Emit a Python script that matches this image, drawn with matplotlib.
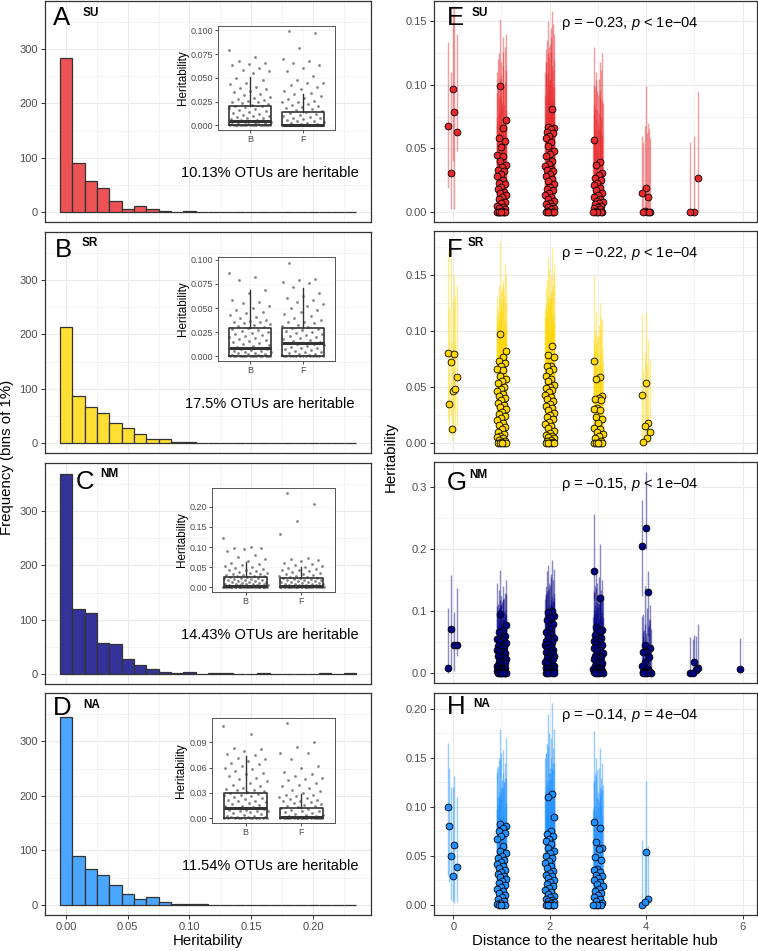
import matplotlib
matplotlib.use("Agg")
import matplotlib.pyplot as plt
from matplotlib.ticker import MultipleLocator, FixedLocator, FormatStrFormatter
import numpy as np

plt.rcParams['font.family'] = ['Liberation Sans', 'DejaVu Sans']
plt.rcParams['mathtext.fontset'] = 'custom'
plt.rcParams['mathtext.rm'] = 'Liberation Sans'
plt.rcParams['mathtext.it'] = 'Liberation Sans:italic'

# ---------------- data ----------------
sites = ['SU', 'SR', 'NM', 'NA']
heritable_pct = ['10.13%', '17.5%', '14.43%', '11.54%']
rho = [-0.23, -0.22, -0.15, -0.14]
p_text = ['< 1e\u221204', '< 1e\u221204', '< 1e\u221204', '= 4e\u221204']

# histogram, bins of 1% (centres 0.00 ... 0.23)
hist_bins = np.round(np.arange(0, 0.235, 0.01), 2)
hist_su = [283, 91, 57, 45, 20, 6, 11, 6, 2, 0, 2, 0, 0, 0, 0, 0, 0, 0, 0, 0, 0, 0, 0, 0]
hist_sr = [213, 86, 67, 56, 36, 28, 17, 8, 7, 1, 1, 0, 0, 0, 0, 0, 0, 0, 0, 0, 0, 0, 0, 0]
hist_nm = [368, 120, 113, 57, 55, 27, 17, 10, 4, 2, 4, 0, 1, 1, 0, 0, 1, 0, 0, 0, 0, 1, 0, 1]
hist_na = [345, 90, 65, 55, 36, 20, 11, 14, 6, 1, 1, 2, 0, 0, 0, 0, 0, 0, 0, 0, 0, 0, 0, 0]

# inset: heritability of bacteria (B) and fungi (F)
su_B = [.079,.072,.068,.066,.064,.063,.060,.058,.057,.055,.050,.048,.045,.043,.040,.039,.038,.036,.035,.033,.032,.030,.029,.028,.027,.026,.025,.024,.023,.022,.021,.020,.020,.019,.018,.017,.016,.015,.014,.013,.012,.011,.010,.010,.009,.008,.008,.007,.006,.006,.005,.005,.004,.004,.003,.003,.002,.002,.002,.001,.001,.001,0,0,0,0,0,0,0,0,0,0,0,0,0,0,0,0,0,0]
su_F = [.0995,.097,.081,.070,.068,.066,.063,.060,.057,.052,.048,.045,.044,.042,.040,.038,.036,.034,.033,.031,.029,.028,.026,.025,.024,.022,.021,.020,.019,.018,.017,.016,.015,.014,.013,.012,.011,.010,.009,.008,.008,.007,.006,.005,.004,.003,.002,.002,.001,.001,0,0,0,0,0,0,0,0,0,0,0,0,0,0,0,0,0,0,0,0,0,0]
sr_B = [.086,.082,.079,.069,.066,.058,.056,.055,.052,.050,.048,.046,.045,.043,.041,.040,.038,.037,.036,.035,.034,.033,.032,.031,.030,.029,.028,.027,.026,.025,.024,.023,.022,.021,.020,.019,.018,.017,.016,.015,.014,.013,.012,.011,.010,.009,.009,.008,.008,.007,.007,.006,.005,.005,.004,.004,.003,.003,.002,.002,.001,.001,0,0,0,0,0,0,0,0,0,0,0,0,0,0,0,0]
sr_F = [.097,.080,.079,.077,.076,.072,.066,.063,.060,.058,.056,.054,.052,.050,.048,.046,.044,.042,.040,.038,.036,.035,.034,.032,.031,.030,.029,.028,.027,.026,.025,.024,.023,.022,.021,.020,.019,.018,.017,.016,.015,.014,.014,.013,.013,.012,.011,.010,.009,.008,.007,.006,.005,.004,.004,.003,.002,.002,.001,.001,0,0,0,0,0,0,0,0,0,0,0,0,0]
nm_B = [.122,.100,.098,.097,.095,.090,.080,.075,.070,.066,.060,.057,.055,.052,.050,.048,.046,.044,.042,.040,.038,.036,.035,.034,.032,.031,.030,.029,.028,.027,.026,.025,.024,.023,.022,.021,.020,.019,.018,.017,.016,.015,.014,.013,.012,.011,.010,.009,.008,.008,.007,.007,.006,.006,.005,.005,.004,.004,.003,.003,.002,.002,.002,.001,.001,.001,.001,0,0,0,0,0,0,0,0,0,0,0,0,0,0,0,0,0,0,0,0,0,0,0]
nm_F = [.235,.207,.165,.132,.072,.070,.067,.065,.060,.057,.055,.052,.050,.048,.046,.044,.042,.040,.038,.036,.034,.032,.030,.029,.028,.026,.025,.024,.023,.022,.021,.020,.019,.018,.017,.016,.015,.014,.013,.012,.011,.010,.009,.008,.007,.007,.006,.006,.005,.005,.004,.004,.003,.003,.002,.002,.002,.001,.001,.001,0,0,0,0,0,0,0,0,0,0,0,0,0,0,0,0,0,0,0,0,0,0]
na_B = [.110,.100,.083,.082,.080,.076,.075,.072,.070,.068,.066,.064,.062,.060,.058,.056,.054,.052,.050,.048,.046,.044,.042,.040,.038,.036,.035,.034,.033,.032,.031,.030,.029,.028,.027,.026,.025,.024,.023,.022,.021,.020,.019,.018,.017,.016,.015,.014,.013,.012,.011,.010,.010,.009,.008,.008,.007,.006,.005,.004,.003,.003,.002,.002,.001,.001,0,0,0,0,0,0,0,0,0,0,0,0]
na_F = [.113,.090,.085,.078,.077,.070,.062,.060,.055,.052,.050,.048,.047,.045,.042,.040,.038,.036,.034,.032,.030,.028,.027,.026,.025,.024,.023,.022,.021,.020,.019,.018,.017,.016,.015,.014,.013,.012,.011,.010,.009,.008,.007,.006,.005,.004,.004,.003,.003,.002,.002,.001,.001,0,0,0,0,0,0,0,0,0,0,0,0,0,0,0,0,0,0]

# boxplot stats (q1, median, q3, upper whisker), lower whisker at 0
su_box = [(.0005, .005, .020, .051), (0, .0005, .0135, .033)]
sr_box = [(.0005, .008, .029, .069), (.0005, .014, .029, .071)]
nm_box = [(0, .003, .026, .064), (0, .002, .022, .050)]
na_box = [(.0005, .012, .030, .074), (0, .001, .012, .0285)]

# heritability (h, lower CI, upper CI) by distance to nearest heritable hub
su_pts = {
    0: [(.068,.019,.134),(.079,.002,.162),(.031,.002,.110),(.063,.048,.140),(.097,.040,.156)],
    1: [(.099,.055,.152),(.072,.030,.140),(.066,.025,.138),(.058,.018,.125),(.056,.015,.130),(.051,.010,.118),(.045,.006,.110),(.044,.004,.126),(.040,.002,.105),(.037,0,.112),(.035,0,.098),(.033,0,.120),(.032,0,.100),(.030,0,.108),(.028,0,.094),(.025,0,.115),(.023,0,.090),(.022,0,.102),(.020,0,.088),(.018,0,.096),(.016,0,.085),(.015,0,.092),(.013,0,.080),(.012,0,.086),(.010,0,.078),(.008,0,.074),(.007,0,.082),(.005,0,.070),(.004,0,.066),(.003,0,.072),(.002,0,.060),(.001,0,.064),(0,0,.055),(0,0,.068),(0,0,.050),(0,0,.075),(0,0,.045),(0,0,.062),(0,0,.040),(0,0,.058)],
    2: [(.081,.040,.158),(.067,.028,.150),(.066,.025,.140),(.065,.022,.145),(.063,.020,.135),(.062,.018,.148),(.060,.015,.130),(.058,.012,.128),(.055,.010,.138),(.052,.008,.125),(.048,.005,.120),(.046,.004,.132),(.044,.002,.118),(.040,0,.115),(.038,0,.122),(.036,0,.110),(.034,0,.126),(.033,0,.108),(.032,0,.112),(.030,0,.105),(.028,0,.118),(.026,0,.100),(.024,0,.110),(.022,0,.098),(.020,0,.104),(.018,0,.095),(.017,0,.090),(.015,0,.100),(.013,0,.092),(.012,0,.085),(.010,0,.088),(.009,0,.080),(.007,0,.095),(.006,0,.078),(.005,0,.082),(.004,0,.075),(.003,0,.070),(.002,0,.086),(.001,0,.065),(0,0,.072),(0,0,.060),(0,0,.068),(0,0,.055),(0,0,.062),(0,0,.050)],
    3: [(.057,.020,.130),(.039,.004,.118),(.037,.002,.110),(.031,0,.125),(.029,0,.105),(.027,0,.098),(.025,0,.112),(.023,0,.095),(.021,0,.100),(.019,0,.090),(.017,0,.104),(.015,0,.088),(.013,0,.092),(.012,0,.085),(.010,0,.096),(.009,0,.080),(.008,0,.086),(.007,0,.078),(.006,0,.082),(.005,0,.075),(.004,0,.070),(.003,0,.077),(.002,0,.068),(.001,0,.072),(0,0,.060),(0,0,.065),(0,0,.055),(0,0,.062),(0,0,.050),(0,0,.058)],
    4: [(.019,0,.099),(.015,0,.060),(.012,0,.070),(.001,0,.068),(0,0,.058),(0,0,.062),(0,0,.055),(0,0,.065)],
    5: [(.027,0,.095),(0,0,.060),(0,0,.055)],
}
sr_pts = {
    0: [(.080,.020,.172),(.079,.030,.150),(.072,.025,.165),(.059,.015,.140),(.046,.010,.128),(.035,.005,.120),(.048,.008,.132),(.012,.002,.090)],
    1: [(.097,.050,.180),(.082,.035,.150),(.077,.030,.145),(.073,.028,.140),(.071,.025,.160),(.069,.022,.135),(.066,.020,.130),(.065,.018,.142),(.060,.015,.128),(.057,.012,.125),(.055,.010,.138),(.053,.008,.120),(.050,.006,.132),(.048,.004,.118),(.046,.002,.115),(.044,0,.126),(.042,0,.112),(.040,0,.110),(.038,0,.122),(.036,0,.108),(.034,0,.105),(.032,0,.116),(.030,0,.102),(.028,0,.100),(.026,0,.110),(.024,0,.098),(.022,0,.095),(.020,0,.104),(.018,0,.092),(.016,0,.090),(.014,0,.100),(.012,0,.088),(.010,0,.085),(.008,0,.094),(.006,0,.082),(.005,0,.080),(.004,0,.090),(.003,0,.078),(.002,0,.075),(.001,0,.086),(0,0,.070),(0,0,.080),(0,0,.065),(0,0,.072),(0,0,.060)],
    2: [(.086,.040,.174),(.078,.032,.165),(.077,.030,.160),(.069,.025,.150),(.069,.022,.145),(.066,.020,.140),(.064,.018,.155),(.060,.015,.138),(.057,.012,.135),(.055,.010,.130),(.052,.008,.148),(.050,.006,.128),(.049,.004,.125),(.047,.002,.136),(.045,0,.122),(.043,0,.120),(.041,0,.132),(.039,0,.118),(.037,0,.115),(.035,0,.128),(.033,0,.112),(.031,0,.110),(.029,0,.124),(.027,0,.108),(.025,0,.105),(.023,0,.118),(.021,0,.102),(.019,0,.100),(.017,0,.112),(.015,0,.098),(.013,0,.095),(.011,0,.108),(.009,0,.092),(.007,0,.090),(.006,0,.102),(.005,0,.088),(.004,0,.085),(.003,0,.096),(.002,0,.082),(.001,0,.080),(0,0,.075),(0,0,.090),(0,0,.070),(0,0,.085),(0,0,.065)],
    3: [(.073,.030,.150),(.059,.020,.125),(.057,.015,.118),(.042,.005,.110),(.040,.003,.105),(.039,.002,.100),(.038,0,.112),(.031,0,.095),(.030,0,.092),(.029,0,.102),(.023,0,.088),(.021,0,.085),(.018,0,.095),(.013,0,.080),(.012,0,.078),(.010,0,.090),(.008,0,.072),(.006,0,.070),(.004,0,.082),(.002,0,.065),(0,0,.060),(0,0,.075),(0,0,.055),(0,0,.068),(0,0,.050),(0,0,.062)],
    4: [(.053,.010,.117),(.043,.005,.115),(.018,0,.092),(.015,0,.080),(.010,0,.075),(.004,0,.070),(.001,0,.065)],
}
nm_pts = {
    0: [(.008,0,.105),(.046,.004,.098),(.072,.012,.158),(.045,.027,.138)],
    1: [(.096,.045,.166),(.078,.030,.150),(.070,.025,.140),(.066,.020,.135),(.060,.015,.130),(.057,.012,.125),(.055,.010,.145),(.053,.008,.120),(.050,.006,.118),(.048,.004,.128),(.046,.002,.115),(.044,0,.112),(.042,0,.122),(.040,0,.110),(.038,0,.108),(.036,0,.118),(.034,0,.105),(.032,0,.102),(.030,0,.112),(.028,0,.100),(.026,0,.098),(.024,0,.108),(.022,0,.095),(.020,0,.092),(.018,0,.104),(.016,0,.090),(.014,0,.088),(.012,0,.098),(.010,0,.085),(.009,0,.082),(.008,0,.094),(.007,0,.080),(.006,0,.078),(.005,0,.088),(.004,0,.075),(.003,0,.072),(.002,0,.084),(.001,0,.070),(0,0,.065),(0,0,.078),(0,0,.060),(0,0,.072),(0,0,.055),(0,0,.068),(0,0,.050)],
    2: [(.100,.050,.183),(.099,.048,.175),(.093,.042,.168),(.090,.040,.160),(.086,.035,.165),(.080,.030,.150),(.071,.025,.145),(.066,.020,.140),(.063,.018,.155),(.060,.015,.135),(.057,.012,.130),(.055,.010,.142),(.052,.008,.128),(.050,.006,.125),(.047,.004,.138),(.045,.002,.120),(.042,0,.118),(.040,0,.132),(.038,0,.115),(.036,0,.112),(.034,0,.126),(.032,0,.110),(.030,0,.108),(.028,0,.122),(.026,0,.105),(.024,0,.102),(.022,0,.116),(.020,0,.100),(.018,0,.098),(.016,0,.110),(.014,0,.095),(.012,0,.092),(.010,0,.105),(.009,0,.090),(.008,0,.088),(.006,0,.100),(.005,0,.085),(.004,0,.082),(.003,0,.095),(.002,0,.080),(.001,0,.078),(0,0,.090),(0,0,.070),(0,0,.085),(0,0,.065)],
    3: [(.165,.120,.257),(.122,.080,.208),(.075,.030,.160),(.070,.025,.150),(.068,.022,.155),(.062,.018,.140),(.057,.015,.135),(.055,.012,.145),(.052,.010,.130),(.050,.008,.128),(.047,.006,.138),(.045,.004,.125),(.042,.002,.120),(.040,0,.132),(.038,0,.118),(.035,0,.115),(.033,0,.126),(.030,0,.112),(.028,0,.110),(.026,0,.122),(.024,0,.105),(.022,0,.102),(.020,0,.118),(.018,0,.100),(.016,0,.098),(.014,0,.112),(.012,0,.095),(.010,0,.092),(.008,0,.106),(.007,0,.090),(.006,0,.088),(.005,0,.100),(.004,0,.085),(.003,0,.082),(.002,0,.095),(.001,0,.080),(0,0,.075),(0,0,.090),(0,0,.070),(0,0,.085)],
    4: [(.235,.200,.325),(.206,.125,.280),(.131,.060,.165),(.046,.005,.140),(.040,.003,.110),(.034,0,.105),(.034,0,.095),(.026,0,.088),(.018,0,.080),(.012,0,.092),(.006,0,.075),(.004,0,.070),(.002,0,.085),(.002,0,.065),(.001,0,.060),(.001,0,.078),(0,0,.055),(0,0,.072),(0,0,.050),(0,0,.068)],
    5: [(.008,0,.080),(.018,0,.062),(0,0,.058),(.005,0,.060),(0,0,.055)],
    6: [(.006,0,.057)],
}
na_pts = {
    0: [(.100,.030,.165),(.061,.002,.132),(.050,.005,.120),(.039,.003,.110),(.029,.004,.120),(.081,.023,.140)],
    1: [(.083,.040,.180),(.081,.035,.170),(.078,.030,.158),(.075,.028,.150),(.073,.025,.145),(.070,.022,.155),(.067,.020,.140),(.060,.015,.135),(.055,.012,.148),(.053,.010,.130),(.050,.008,.128),(.048,.006,.142),(.046,.004,.125),(.044,.002,.120),(.042,0,.136),(.040,0,.118),(.038,0,.115),(.036,0,.130),(.034,0,.112),(.032,0,.110),(.030,0,.125),(.028,0,.108),(.026,0,.105),(.024,0,.120),(.022,0,.102),(.020,0,.100),(.018,0,.115),(.016,0,.098),(.014,0,.095),(.012,0,.110),(.010,0,.092),(.008,0,.090),(.006,0,.104),(.004,0,.088),(.002,0,.085),(.001,0,.098),(0,0,.082),(0,0,.094),(0,0,.078),(0,0,.090)],
    2: [(.113,.055,.206),(.110,.050,.195),(.090,.040,.180),(.075,.030,.170),(.072,.028,.165),(.070,.025,.160),(.067,.022,.175),(.065,.020,.155),(.062,.018,.150),(.058,.015,.162),(.055,.012,.145),(.053,.010,.140),(.050,.008,.155),(.048,.006,.138),(.045,.004,.135),(.043,.002,.150),(.040,0,.130),(.038,0,.128),(.035,0,.145),(.033,0,.125),(.031,0,.122),(.029,0,.140),(.027,0,.120),(.025,0,.118),(.023,0,.135),(.021,0,.115),(.019,0,.112),(.017,0,.128),(.015,0,.110),(.013,0,.108),(.011,0,.122),(.009,0,.105),(.008,0,.102),(.006,0,.118),(.005,0,.100),(.004,0,.098),(.003,0,.112),(.002,0,.095),(.001,0,.092),(0,0,.108),(0,0,.090),(0,0,.105),(0,0,.085),(0,0,.100),(0,0,.080)],
    3: [(.085,.040,.178),(.078,.035,.160),(.064,.025,.150),(.058,.020,.145),(.057,.018,.140),(.049,.010,.135),(.046,.008,.130),(.037,.002,.138),(.036,0,.125),(.034,0,.120),(.031,0,.132),(.029,0,.118),(.027,0,.115),(.025,0,.128),(.023,0,.112),(.021,0,.110),(.019,0,.122),(.016,0,.105),(.014,0,.102),(.012,0,.118),(.010,0,.100),(.008,0,.098),(.006,0,.112),(.004,0,.095),(.002,0,.092),(0,0,.108),(0,0,.090),(0,0,.102),(0,0,.085),(0,0,.098)],
    4: [(.054,.002,.126),(0,0,.066),(.006,0,.060),(.003,0,.050)],
}

colors = ['#E8282B', '#FFD700', '#000080', '#1E90FF']
hists = [hist_su, hist_sr, hist_nm, hist_na]
insets = [(su_B, su_F), (sr_B, sr_F), (nm_B, nm_F), (na_B, na_F)]
boxes = [su_box, sr_box, nm_box, na_box]
pts = [su_pts, sr_pts, nm_pts, na_pts]
letters_l = ['A', 'B', 'C', 'D']
letters_r = ['E', 'F', 'G', 'H']

# ---------------- layout (pixels) ----------------
W, H = 758, 951
fig = plt.figure(figsize=(W / 100, H / 100), dpi=100)


def px_axes(l, t, r, b):
    return fig.add_axes([l / W, 1 - b / H, (r - l) / W, (b - t) / H])


def style(ax, tick_size=8):
    for s in ax.spines.values():
        s.set_color('#333333')
        s.set_linewidth(0.9)
    ax.grid(True, which='major', color='#EBEBEB', lw=0.8)
    ax.grid(True, which='minor', color='#EBEBEB', lw=0.4)
    ax.set_axisbelow(True)
    ax.tick_params(which='major', length=3, width=0.7, color='#333333',
                   labelsize=tick_size, labelcolor='#4D4D4D', pad=2)
    ax.tick_params(which='minor', length=0)


def mix(c, a=0.8):
    rgb = np.array(matplotlib.colors.to_rgb(c))
    return tuple(rgb * a + (1 - a))


def jitter(n, width, seed=0.0):
    # low-discrepancy spread (deterministic) used as jitter
    return ((np.arange(n) * 0.618034 + seed) % 1 - 0.5) * width


rows_l = [(1, 222), (232, 453), (463, 684), (693, 915)]
rows_r = [(1, 222), (231, 453), (462, 683), (693, 915)]
inset_px = [(218, 26, 335, 130), (218, 257, 335, 361), (212, 488, 335, 592), (212, 718, 335, 823)]
inset_ylim = [(-0.005, 0.1045), (-0.005, 0.103), (-0.0118, 0.247), (-0.0057, 0.119)]
inset_ticks = [[0, .025, .05, .075, .1], [0, .025, .05, .075, .1], [0, .05, .1, .15, .2], [0, .03, .06, .09]]
inset_fmt = ['%.3f', '%.3f', '%.2f', '%.2f']
right_ylim = [(-0.0079, 0.166), (-0.009, 0.189), (-0.016, 0.341), (-0.0103, 0.2163)]
right_ticks = [[0, .05, .1, .15], [0, .05, .1, .15], [0, .1, .2, .3], [0, .05, .1, .15, .2]]
right_minor = [[.025, .075, .125], [.025, .075, .125, .175], [.05, .15, .25], [.025, .075, .125, .175]]
right_fmt = ['%.2f', '%.2f', '%.1f', '%.2f']

letter_l_px = [(53, 25), (55, 257), (76, 489), (53, 715)]
name_l_px = [(83, 15.5), (82, 246), (100, 477), (83, 708)]
letter_r_px = [(447, 25), (447, 257), (447, 490), (447, 714)]
name_r_px = [(472, 15.5), (468, 246), (469, 478), (473, 707)]

for i in range(4):
    # ---- histogram panels ----
    ax = px_axes(45, rows_l[i][0], 371, rows_l[i][1])
    style(ax)
    ax.bar(hist_bins, hists[i], width=0.01, color=mix(colors[i]),
           edgecolor='#333333', linewidth=0.9, zorder=2)
    ax.set_xlim(-0.017, 0.247)
    ax.set_ylim(-18.5, 388.5)
    ax.xaxis.set_major_locator(MultipleLocator(0.05))
    ax.xaxis.set_minor_locator(MultipleLocator(0.025))
    ax.yaxis.set_major_locator(FixedLocator([0, 100, 200, 300]))
    ax.yaxis.set_minor_locator(FixedLocator([50, 150, 250, 350]))
    ax.xaxis.set_major_formatter(FormatStrFormatter('%.2f'))
    if i < 3:
        ax.tick_params(axis='x', which='both', labelbottom=False, length=0)
    ax.text(0.69, 0.22, heritable_pct[i] + ' OTUs are heritable', transform=ax.transAxes,
            ha='center', va='center', fontsize=10.5)

    # ---- inset boxplot ----
    axi = px_axes(*inset_px[i])
    for s in axi.spines.values():
        s.set_color('#555555')
        s.set_linewidth(0.7)
    axi.grid(True, which='major', color='#F2F2F2', lw=0.5)
    axi.set_axisbelow(True)
    for j, vals in enumerate(insets[i]):
        off = jitter(len(vals), 0.8, 0.17 * j)
        axi.scatter(j + 1 + off, vals, s=4, color='#333333', alpha=0.6, linewidths=0, zorder=2)
    stats = [dict(q1=b[0], med=b[1], q3=b[2], whislo=0.0, whishi=b[3], fliers=[])
             for b in boxes[i]]
    axi.bxp(stats, positions=[1, 2], widths=0.78, showfliers=False, showcaps=False,
            boxprops=dict(color='#333333', lw=1.2),
            medianprops=dict(color='#333333', lw=2.2),
            whiskerprops=dict(color='#333333', lw=1.0), manage_ticks=False)
    axi.set_xlim(0.4, 2.6)
    axi.set_ylim(*inset_ylim[i])
    axi.set_xticks([1, 2])
    axi.set_xticklabels(['B', 'F'])
    axi.set_yticks(inset_ticks[i])
    axi.yaxis.set_major_formatter(FormatStrFormatter(inset_fmt[i]))
    axi.tick_params(length=2, width=0.6, color='#333333', labelsize=6.5,
                    labelcolor='#4D4D4D', pad=1.5)
    axi.set_ylabel('Heritability', fontsize=8.5, labelpad=1.5)

    # ---- heritability vs distance ----
    axr = px_axes(434, rows_r[i][0], 757, rows_r[i][1])
    style(axr)
    col = colors[i]
    for d, rows in pts[i].items():
        arr = np.array(rows)
        x = d + jitter(len(arr), 0.2, 0.37 * d)
        axr.vlines(x, arr[:, 1], arr[:, 2], color=col, alpha=0.45, lw=1.0, zorder=2)
    for d, rows in pts[i].items():
        arr = np.array(rows)
        x = d + jitter(len(arr), 0.2, 0.37 * d)
        axr.scatter(x, arr[:, 0], s=24, color=col, edgecolors='black', linewidths=0.6, zorder=3)
    axr.set_xlim(-0.4, 6.3)
    axr.set_ylim(*right_ylim[i])
    axr.xaxis.set_major_locator(FixedLocator([0, 2, 4, 6]))
    axr.xaxis.set_minor_locator(FixedLocator([1, 3, 5]))
    axr.yaxis.set_major_locator(FixedLocator(right_ticks[i]))
    axr.yaxis.set_minor_locator(FixedLocator(right_minor[i]))
    axr.yaxis.set_major_formatter(FormatStrFormatter(right_fmt[i]))
    if i < 3:
        axr.tick_params(axis='x', which='both', labelbottom=False, length=0)
    axr.text(0.607, 0.9, 'ρ = \u2212%.2f, $p$ %s' % (abs(rho[i]), p_text[i]),
             transform=axr.transAxes, ha='center', va='center', fontsize=10.5)

    # ---- panel letters ----
    for (lx, ly), (nx, ny), let in [(letter_l_px[i], name_l_px[i], letters_l[i]),
                                    (letter_r_px[i], name_r_px[i], letters_r[i])]:
        fig.text(lx / W, 1 - ly / H, let, fontsize=18.5, va='baseline', ha='left')
        fig.text(nx / W, 1 - ny / H, sites[i], fontsize=8.5, fontweight='bold',
                 va='baseline', ha='left')

fig.text(7 / W, 1 - 457 / H, 'Frequency (bins of 1%)', rotation=90, ha='center', va='center', fontsize=10.8)
fig.text(391 / W, 1 - 457 / H, 'Heritability', rotation=90, ha='center', va='center', fontsize=10.8)
fig.text(208 / W, 1 - 941 / H, 'Heritability', ha='center', va='center', fontsize=10.8)
fig.text(595 / W, 1 - 941 / H, 'Distance to the nearest heritable hub', ha='center', va='center', fontsize=10.8)

fig.savefig('out.png', dpi=100)
